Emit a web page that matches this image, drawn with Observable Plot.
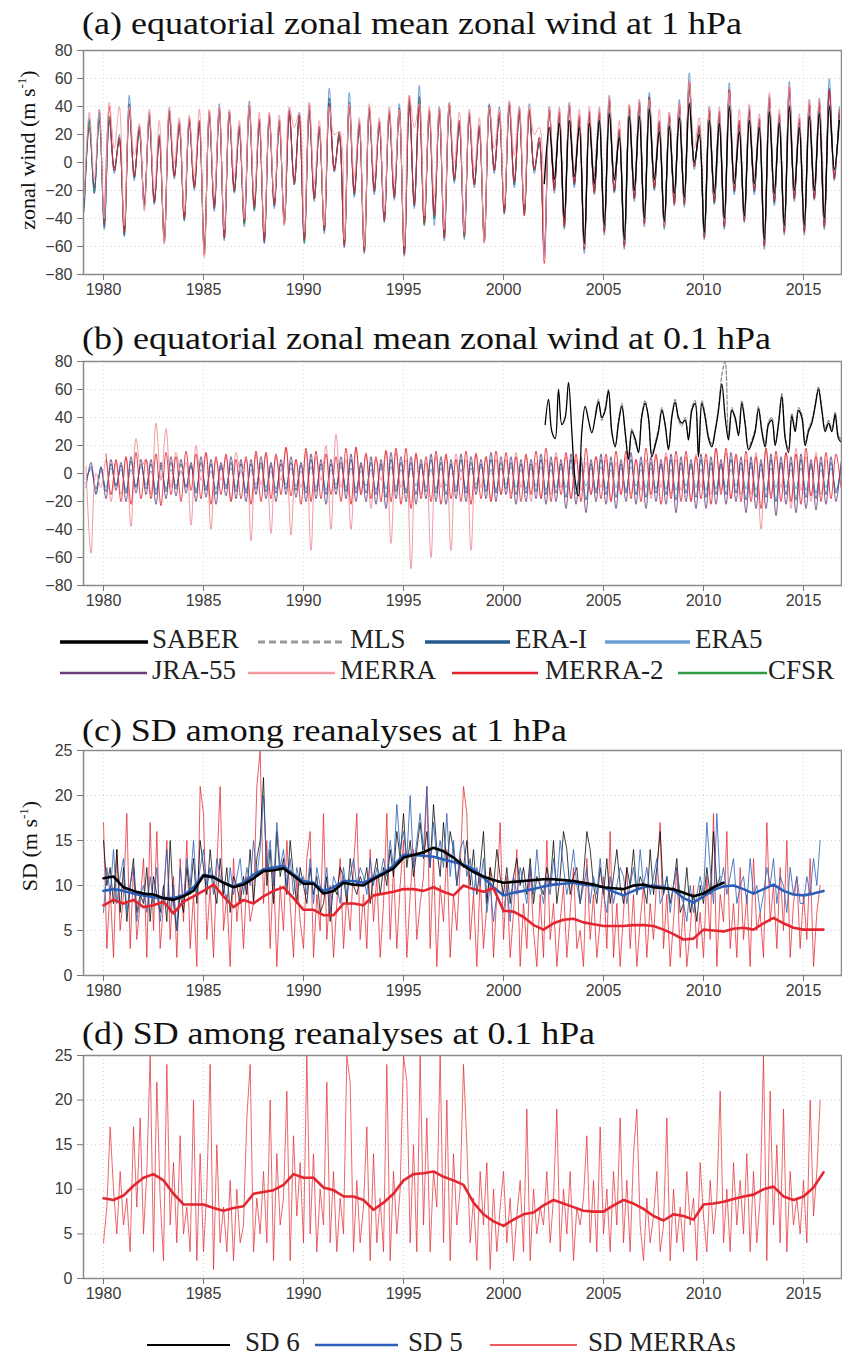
<!DOCTYPE html>
<html><head><meta charset="utf-8">
<script src="https://cdn.jsdelivr.net/npm/d3@7"></script>
<script src="https://cdn.jsdelivr.net/npm/@observablehq/plot@0.6"></script>
<style>
body{margin:0;background:#fff;}
#page{position:relative;width:842px;height:1358px;overflow:hidden;background:#fff;}
.title{position:absolute;left:82px;font-family:"Liberation Serif","Times New Roman",serif;font-size:32px;line-height:32px;color:#111;white-space:nowrap;transform-origin:0 0;}
.panel{position:absolute;left:0;}
.ylab{position:absolute;font-family:"Liberation Serif","Times New Roman",serif;font-size:22px;line-height:22px;color:#111;white-space:nowrap;transform:translate(-50%,-50%) rotate(-90deg);}
.ylab sup{font-size:13px;vertical-align:9px;line-height:0;}
.leg{position:absolute;font-family:"Liberation Serif","Times New Roman",serif;font-size:27px;line-height:27px;color:#222;white-space:nowrap;}
</style></head><body><div id="page"></div>
<script>
// ---------------- DATA ----------------
const xTicks = [1980, 1985, 1990, 1995, 2000, 2005, 2010, 2015];
const windTicks = [-80, -60, -40, -20, 0, 20, 40, 60, 80];
const sdTicks = [0, 5, 10, 15, 20, 25];

// (a) 1 hPa, 4 values per year [Jan, Apr, Jul, Oct]
const a_ERAI = [-32,30,-22,36, -46,33,-6,17, -52,42,-11,24, -31,33,-29,17, -56,36,-9,27, -41,29,-17,29, -63,34,-33,39, -54,36,-21,24, -44,41,-33,29, -57,32,-31,29, -43,35,-14,34, -56,37,-26,24, -49,46,-4,19, -59,43,-23,27, -63,37,-21,29, -41,35,-25,39, -65,43,-31,47, -44,35,-40,37, -54,41,-13,27, -53,33,-16,24, -56,41,-6,34, -36,41,-16,37, -36,37,-6,14, -66,37,-19,34, -46,41,-16,31, -62,34,-21,34, -49,45,-21,21, -59,39,-26,43, -43,47,-19,27, -46,33,-29,41, -29,57,-3,24, -53,37,-29,34, -46,51,-21,27, -41,37,-21,31, -59,46,-29,32, -49,53,-26,29, -49,41,-26,43, -46,53,-11,35];
const a_ERA5 = [-35,32,-22,38, -48,30,-8,20, -53,48,-13,26, -33,36,-30,20, -58,38,-12,30, -42,31,-20,30, -66,36,-35,42, -56,37,-22,27, -46,44,-35,31, -58,35,-33,31, -45,38,-16,36, -57,39,-28,26, -51,53,-7,22, -61,50,-25,30, -65,40,-23,30, -43,38,-27,42, -67,45,-33,55, -45,38,-45,40, -56,43,-15,30, -55,36,-18,27, -57,42,-8,40, -37,44,-18,40, -38,42,-8,18, -67,40,-22,38, -48,43,-18,34, -65,37,-23,38, -52,48,-22,24, -62,41,-28,45, -46,50,-20,30, -48,36,-31,45, -32,64,-5,27, -55,40,-30,37, -48,57,-23,30, -43,40,-23,32, -62,48,-31,35, -52,58,-28,32, -52,45,-27,46, -48,60,-13,40];
const a_JRA55 = [-28,25,-18,30, -42,30,-4,15, -48,36,-9,22, -28,30,-26,16, -52,32,-9,25, -38,28,-16,26, -60,32,-30,35, -50,33,-18,23, -40,38,-30,28, -53,31,-28,26, -40,33,-13,30, -53,35,-23,23, -46,42,-4,18, -56,40,-20,26, -60,36,-18,26, -38,34,-22,35, -62,40,-28,42, -40,34,-36,35, -50,38,-11,26, -50,32,-14,23, -53,38,-4,32, -33,40,-14,34, -33,36,-4,14, -62,36,-17,33, -43,38,-14,30, -58,33,-19,33, -46,42,-19,21, -56,38,-24,40, -40,44,-17,26, -43,32,-26,38, -27,52,-2,23, -50,36,-26,31, -43,48,-19,27, -39,36,-19,28, -56,43,-26,31, -46,50,-24,28, -46,40,-24,40, -43,50,-9,34];
const a_MERRA = [-25,36,-12,38, -40,43,10,40, -45,40,5,28, -35,38,-20,30, -58,40,0,32, -35,34,-10,38, -68,38,-25,40, -48,38,-10,30, -40,42,-25,36, -50,36,-25,34, -45,40,25,36, -50,43,-15,30, -45,40,20,22, -55,42,-10,32, -60,42,-10,32, -35,40,-15,38, -60,48,25,42, -38,40,-25,40, -48,42,0,36, -50,38,-5,32, -58,40,10,38, -30,44,5,40, -30,40,20,25, -70,40,-10,40, -40,42,-5,38, -60,40,-10,40, -45,48,-10,30, -55,42,-15,45, -40,45,-10,38, -45,36,-20,42, -25,58,10,32, -48,40,-20,40, -42,50,-10,38, -38,42,-10,35, -55,50,-20,38, -45,55,-15,35, -45,45,-15,45, -40];
const a_MERRA2 = [-44,40,-6,18, -50,38,-10,26, -30,35,-28,19, -56,37,-10,28, -40,32,-18,30, -66,37,-32,38, -54,36,-20,26, -42,40,-32,31, -56,34,-30,30, -44,37,-15,33, -55,42,-26,26, -48,40,-6,22, -60,40,-22,28, -64,39,-20,29, -42,36,-25,37, -66,48,-30,40, -43,37,-38,38, -54,42,-12,30, -52,35,-16,26, -57,40,-6,36, -36,42,-14,38, -38,38,-5,18, -72,38,-20,36, -46,40,-15,33, -62,36,-22,36, -50,45,-20,24, -60,40,-26,42, -44,46,-18,29, -46,34,-30,42, -30,58,-3,26, -54,38,-28,36, -46,52,-20,30, -42,38,-20,31, -60,46,-28,34, -50,54,-26,31, -50,42,-26,43, -46,52,-12,38];
const a_CFSR = [-30,28,-20,32, -44,32,-4,16, -50,38,-10,22, -30,31,-28,17, -54,34,-10,26, -40,30,-18,28, -62,34,-30,38, -52,36,-20,24, -44,38,-34,28, -54,32,-30,28, -42,34,-16,32, -58,36,-26,24, -48,42,-6,20, -58,40,-22,27, -62,37,-20,28, -40,35,-24,37, -64,42,-30,44, -45,35,-40,36, -52,40,-12,28, -52,33,-16,25, -55,38,-5,33, -34,40,-15,35, -35,36,-5,15, -62,37,-18,33, -44,39,-15,31, -60,34,-20,34, -48,43,-20,22, -58,38,-25,41, -42,45,-18,27, -45,33,-28,39, -28,54,-2,24, -52,37,-28,32];
const a_SABER = [-15,25,-12,28, -40,30,-10,25, -58,28,-15,30, -45,35,-12,18, -55,33,-20,33, -40,38,-12,22, -42,26,-22,32, -25,42,0,20, -50,30,-22,28, -40,40,-15,22, -38,30,-15,25, -55,36,-22,28, -45,40,-20,25, -45,33,-20,35, -40,40,-5,30];
const a_MLS = [-14,31, -46,36,-13,19, -56,34,-21,34, -41,39,-13,23, -43,27,-23,33, -26,43,-1,21, -51,31,-23,29, -41,41,-16,23, -39,31,-16,26, -56,37,-23,29, -46,41,-21,26, -46,34,-21,36, -41,41,-6,31];

// (b) 0.1 hPa, 4 values per year [Feb, May, Aug, Nov]
const b_ERAI = [-7,5,-11,4, -13,7,-9,6, -14,9,-10,7, -11,7,-15,6, -13,8,-11,7, -10,6,-14,8, -12,7,-15,6, -11,8,-13,7, -14,7,-11,8, -13,6,-14,7, -11,8,-12,6, -14,10,-13,7, -15,7,-11,8, -13,10,-14,6, -14,8,-15,7, -17,10,-13,8, -14,8,-15,7, -13,10,-14,8, -15,7,-13,10, -14,8,-11,7, -13,10,-14,8, -11,8,-15,7, -14,7,-13,10, -15,8,-14,7, -17,10,-15,8, -19,7,-14,10, -15,8,-17,7, -14,10,-15,8, -17,8,-14,7, -15,10,-19,8, -14,7,-17,10, -17,8,-15,7, -15,10,-14,8, -19,8,-17,7, -17,10,-20,8, -15,8,-19,10, -17,7,-18,8, -15,8,-14,6];
const b_ERA5 = [-4,3,-14,2, -10,4,-8,3, -12,3,-9,5, -8,2,-12,4, -11,3,-9,2, -9,5,-12,3, -10,2,-11,4, -9,4,-10,3, -12,3,-8,5, -10,2,-11,3, -8,4,-9,2, -11,5,-10,4, -12,3,-8,5, -10,4,-11,2, -9,3,-12,4, -11,5,-10,3, -12,4,-9,5, -10,3,-11,4, -9,5,-10,3, -11,4,-8,5, -10,3,-12,4, -8,5,-10,3, -11,4,-9,5, -12,3,-10,4, -10,5,-11,3, -9,4,-12,5, -11,3,-10,4, -12,5,-9,3, -10,4,-11,5, -11,3,-12,4, -9,5,-10,3, -12,4,-11,5, -10,3,-9,4, -11,5,-12,3, -12,4,-10,5, -10,3,-11,4, -12,5,-14,3, -10,4,-12,2];
const b_JRA55 = [-10,8,-15,5, -18,10,-12,8, -20,12,-14,10, -15,10,-22,8, -18,12,-16,10, -14,8,-20,12, -17,10,-22,8, -16,12,-18,10, -20,10,-15,12, -18,8,-20,10, -15,12,-17,8, -20,14,-18,10, -22,10,-15,12, -18,14,-20,8, -20,12,-22,10, -25,15,-18,12, -20,12,-22,10, -18,14,-20,12, -22,10,-18,14, -20,12,-15,10, -18,15,-20,12, -15,12,-22,10, -20,10,-18,14, -22,12,-20,10, -25,14,-22,12, -28,10,-20,14, -22,12,-25,10, -20,15,-22,12, -25,12,-20,10, -22,14,-28,12, -20,10,-25,14, -25,12,-22,10, -22,15,-20,12, -28,12,-25,10, -25,14,-30,12, -22,12,-28,14, -25,10,-26,12, -22,12,-20,8];
const b_MERRA = [5,-57,0,-10, 10,-20,8,-15, 12,-38,25,5, 10,-15,36,-5, 32,-10,15,0, 8,-37,20,-5, 15,-40,10,-5, 12,-20,15,0, 10,-48,14,-8, 15,-43,12,-5, 18,-44,10,-10, 15,-55,12,-5, 20,-40,28,-10, 10,-40,18,-15, 15,-25,10,-5, 17,-50,15,-10, 10,-68,15,-15, 8,-60,12,-10, 12,-55,14,-5, 10,-55,15,-10, 12,-20,10,-15, 10,-15,15,-10, 12,-20,8,-18, 10,-15,15,-10, 12,-18,10,-12, 8,-15,12,-10, 10,-20,8,-15, 12,-15,10,-12, 10,-18,12,-10, 15,-15,10,-12, 12,-20,14,-10, 10,-15,18,-12, 15,-18,12,-15, 10,-15,15,-40, 18,-15,12,-10, 15,-25,18,-12, 12,-20,15,-15, 10];
const b_MERRA2 = [14,-15,10,-20, 12,-22,15,-18, 10,-18,14,-23, 15,-15,12,-20, 16,-12,14,-18, 15,-22,12,-15, 14,-20,10,-18, 12,-22,16,-20, 15,-18,14,-15, 19,-16,10,-22, 18,-20,16,-18, 14,-15,12,-20, 18,-22,19,-15, 14,-18,12,-20, 16,-20,18,-22, 18,-25,14,-18, 12,-20,16,-22, 14,-18,10,-20, 16,-22,14,-18, 12,-20,16,-15, 15,-18,12,-20, 14,-15,16,-18, 18,-20,12,-15, 15,-18,14,-20, 18,-15,12,-18, 14,-20,16,-15, 16,-18,10,-20, 18,-15,14,-22, 12,-18,16,-20, 16,-20,12,-18, 14,-22,18,-15, 18,-18,14,-20, 16,-20,12,-25, 18,-18,16,-20, 15,-20,14,-22, 18,-16,12,-20, 15,-18,14,-10];
// 6 values per year
const b_SABER = [35,53,30,25,60,35, 40,65,30,-5,-16,30, 48,38,29,40,51,40, 45,59,30,19,36,48, 30,10,30,25,15,41, 50,40,12,20,30,45, 35,17,40,51,40,36, 38,24,45,50,12,50, 40,25,19,30,45,64, 40,24,45,40,27,50, 35,17,22,30,46,30, 19,35,38,20,35,55, 25,15,41,30,45,40, 20,30,36,48,60,45, 30,36,30,42,25,22];
const b_MLS = [42,53,38, 47,60,28,20,38,50, 28,12,32,22,17,43, 52,38,14,22,32,47, 33,19,42,53,38,34, 40,26,47,52,14,52, 42,27,21,32,47,70, 80,26,47,38,29,52, 37,19,24,32,48,32, 21,37,40,22,37,57, 27,17,43,32,47,42, 22,32,38,50,62,47, 32,38,32,44,27,24];

// (c) SD at 1 hPa: thin = 6 values per year from 1980, thick = running mean every half year
const c_SD6 = [15,10,12,8,14,7, 12,6,10,13,7,9, 8,12,6,11,9,7, 10,6,15,8,5,9, 7,12,9,13,8,15, 12,9,14,10,8,13, 9,12,7,11,10,8, 11,9,14,8,13,15, 22,10,14,8,16,11, 13,9,15,11,8,12, 10,8,12,9,11,7, 8,11,6,10,9,12, 11,8,13,10,9,11, 10,12,8,11,13,9, 12,10,14,11,16,13, 18,12,15,11,14,17, 13,16,12,19,14,11, 17,12,16,14,10,13, 12,15,10,14,9,12, 16,8,12,10,14,11, 9,12,8,11,13,10, 12,9,13,8,11,10, 9,12,10,15,8,11, 16,14,9,11,12,8, 11,16,14,10,8,12, 9,13,8,11,14,10, 8,12,10,14,9,11, 10,8,14,9,12,16, 9,11,8,10,13,7, 8,12,7,9,6,10, 8,12,9,16,10,11];
const c_SD5 = [7,12,9,14,8,11, 13,7,10,12,6,9, 10,7,11,8,12,6, 9,14,7,10,5,12, 8,13,10,15,9,12, 14,10,12,9,13,11, 10,8,12,9,11,13, 9,12,10,15,11,14, 20,12,15,10,17,12, 14,10,13,9,12,10, 11,9,13,8,12,10, 9,12,7,11,10,8, 12,9,11,13,10,12, 11,9,13,10,12,11, 13,11,15,12,19,14, 16,13,20,12,15,18, 14,21,12,17,13,15, 12,18,11,15,10,14, 15,11,13,9,12,10, 13,7,10,6,9,8, 7,10,6,11,9,12, 10,8,12,9,14,10, 8,11,9,13,10,15, 12,9,11,14,10,8, 10,12,8,11,9,13, 9,7,11,8,10,12, 11,8,10,12,9,14, 10,12,9,11,13,8, 9,11,7,10,12,9, 8,6,10,7,9,11, 9,17,12,8,18,10, 12,9,11,13,8,10, 11,8,13,9,10,7, 9,12,10,13,8,11, 10,7,12,9,11,8, 8,11,9,13,10,15];
const c_SDM = [17,3,10,2,14,5, 9,18,3,12,4,8, 13,2,17,5,16,3, 8,15,4,11,2,13, 6,15,3,9,1,21, 18,4,10,2,12,21, 5,9,1,13,6,10, 3,11,6,8,21,25, 8,15,3,12,1,10, 5,15,8,2,11,6, 3,13,16,2,9,5, 18,4,10,2,8,13, 3,9,5,12,18,4, 9,3,14,6,11,2, 8,18,4,12,3,10, 15,2,9,14,4,8, 11,21,3,13,1,10, 6,14,2,9,5,12, 21,18,4,9,1,11, 3,8,12,2,9,17, 4,11,2,7,14,1, 8,3,12,5,1,9, 2,15,4,8,1,6, 10,2,7,12,3,5, 1,13,4,9,2,6, 11,3,16,2,8,1, 7,12,3,9,1,6, 10,2,8,4,11,17, 3,9,1,6,12,2, 8,1,5,10,3,7, 2,11,4,18,1,9, 6,16,3,8,2,12, 4,9,1,13,5,7, 2,17,6,10,3,12, 5,15,2,8,11,3, 9,4,13,1,7,10];
const c_SD6mean = [10.8,11.0,9.8,9.4,9.1,9.0,8.6,8.4,8.8,9.4,11.1,10.9,10.3,9.8,10.1,10.8,11.6,11.7,11.9,11.1,10.2,10.2,9.1,9.4,10.3,10.1,10.0,10.7,11.3,11.9,13.1,13.4,13.7,14.2,13.8,13.1,12.2,11.5,11.0,10.6,10.3,10.4,10.5,10.6,10.7,10.7,10.6,10.5,10.3,10.1,9.8,9.7,9.6,10.0,10.1,9.8,9.7,9.6,9.2,8.8,9.1,9.8,10.3];
const c_SD5mean = [9.4,9.6,9.4,9.1,8.9,8.7,8.6,8.6,8.9,9.8,11.2,11.0,10.3,9.9,10.3,11.2,11.8,12.0,12.2,11.2,10.5,10.3,9.4,9.8,10.5,10.5,10.3,10.9,11.4,12.2,13.4,13.4,13.3,13.2,12.9,12.6,12.3,11.8,10.9,9.8,8.9,9.2,9.4,9.6,9.9,10.1,10.2,10.3,10.1,10.0,9.8,9.3,8.9,9.4,9.8,10.0,9.8,9.5,8.6,8.1,8.8,9.5,9.9,10.0,9.6,9.1,9.6,10.1,9.4,9.0,8.9,9.1,9.4];
const c_SDMmean = [7.8,8.4,8.0,8.4,7.6,7.8,8.2,6.9,8.2,8.8,9.4,10.1,8.8,7.6,8.4,8.0,8.8,9.4,9.8,8.6,7.3,7.3,6.7,6.7,8.0,8.0,7.8,8.9,9.1,9.3,9.6,9.6,9.4,9.8,9.3,8.9,10.0,9.6,9.3,9.7,7.2,7.1,6.5,5.6,5.1,5.8,6.2,6.3,5.9,5.7,5.5,5.5,5.5,5.6,5.6,5.5,5.1,4.6,4.0,4.1,5.1,5.0,4.9,5.2,5.3,5.1,5.8,6.4,5.8,5.3,5.1,5.1,5.1];

// (d) SD at 0.1 hPa
const d_SDM = [4,8,17,10,5,12, 6,9,3,17,8,18, 5,12,25,3,22,9, 2,24,6,13,4,16, 5,8,3,20,2,14, 3,10,24,1,15,4, 8,3,11,2,10,4, 6,18,24,3,9,5, 12,4,20,2,14,6, 9,21,2,16,7,13, 4,25,5,14,3,10, 6,22,4,12,3,9, 5,25,22,3,11,4, 8,17,2,14,4,9, 3,24,2,12,5,10, 25,22,4,15,3,25, 6,18,3,12,8,25, 4,20,2,14,6,10, 24,15,4,9,2,12, 6,13,1,10,3,8, 12,4,9,2,7,11, 3,19,2,10,5,8, 6,12,4,9,19,3, 10,5,12,2,8,6, 9,16,4,11,3,17, 5,10,3,12,6,18, 4,11,3,14,19,6, 2,9,4,7,12,3, 6,18,2,10,4,8, 3,12,6,9,2,13, 7,3,11,5,9,21, 4,10,3,13,6,11, 5,14,3,12,4,9, 25,2,21,6,15,4, 19,3,12,6,9,5, 11,4,20,7,12,20];
const d_SDMmean = [9.0,8.8,9.3,10.4,11.3,11.7,11.0,9.5,8.3,8.3,8.3,7.9,7.6,7.9,8.1,9.5,9.7,9.9,10.5,11.7,11.3,11.3,10.2,9.9,9.2,9.2,8.8,7.7,8.5,9.5,11.0,11.7,11.8,12.0,11.4,11.0,10.5,8.5,7.2,6.4,5.9,6.6,7.2,7.4,8.2,8.8,8.4,8.0,7.6,7.5,7.5,8.2,8.8,8.4,7.8,7.0,6.5,7.2,7.0,6.6,8.3,8.4,8.6,8.9,9.2,9.4,10.0,10.3,9.2,8.8,9.2,10.2,11.9];

// ---------------- helpers ----------------
function ser(vals, start, perYear, phase) {
  return vals.map((v, i) => ({t: start + i / perYear + phase, v}));
}
const C = {
  SABER: "#000000", MLS: "#8c8c8c", ERAI: "#245b91", ERA5: "#6b9fd3",
  JRA55: "#6a3c7c", MERRA: "#f39aa3", MERRA2: "#e2222c", CFSR: "#2e9a42",
  SD6: "#000000", SD5: "#2d5fb8", SDM: "#e3262f"
};
const page = document.getElementById("page");
const minus = d => d < 0 ? "\u2212" + Math.abs(d) : String(d);

function line(data, stroke, w, extra = {}) {
  return Plot.line(data, {x: "t", y: "v", stroke, strokeWidth: w, clip: true, ...extra});
}

function panel(top, innerH, yDomain, yTicks, marks) {
  const mt = 10, mb = 30;
  const svg = Plot.plot({
    width: 842, height: mt + innerH + mb,
    marginLeft: 83, marginRight: 1, marginTop: mt, marginBottom: mb,
    style: {fontFamily: '"Liberation Sans", Arial, sans-serif', fontSize: "16px", color: "#333", background: "transparent", overflow: "visible"},
    x: {domain: [1979, 2016.9]},
    y: {domain: yDomain},
    marks: [
      Plot.gridY(yTicks, {stroke: "#d4d4d4", strokeOpacity: 1, strokeDasharray: "1,3"}),
      Plot.gridX(xTicks, {stroke: "#d4d4d4", strokeOpacity: 1, strokeDasharray: "1,3"}),
      ...marks,
      Plot.frame({stroke: "#8a8a8a", strokeWidth: 1.5}),
      Plot.axisY(yTicks, {tickSize: 6, tickPadding: 5, stroke: "#777", label: null, tickFormat: minus, fill: "#3a3a3a"}),
      Plot.axisX(xTicks, {tickSize: 6, tickPadding: 3, stroke: "#777", label: null, tickFormat: d => String(d), fill: "#3a3a3a"})
    ]
  });
  svg.classList.add("panel");
  svg.style.top = (top - mt) + "px";
  page.appendChild(svg);
}

function title(text, baseline, targetW) {
  const d = document.createElement("div");
  d.className = "title";
  d.textContent = text;
  d.style.top = (baseline - 28.5) + "px";
  page.appendChild(d);
  const w = d.getBoundingClientRect().width;
  d.style.transform = `scaleX(${targetW / w})`;
}

function ylab(html, cx, cy) {
  const d = document.createElement("div");
  d.className = "ylab";
  d.innerHTML = html;
  d.style.left = cx + "px";
  d.style.top = cy + "px";
  page.appendChild(d);
}

// legend swatches overlay
const legSvg = d3.select(page).append("svg")
  .attr("width", 842).attr("height", 1358)
  .style("position", "absolute").style("left", 0).style("top", 0).style("pointer-events", "none");
function legItem(x1, x2, y, color, w, dash, label, tx) {
  legSvg.append("line").attr("x1", x1).attr("x2", x2).attr("y1", y).attr("y2", y)
    .attr("stroke", color).attr("stroke-width", w).attr("stroke-dasharray", dash || null);
  const d = document.createElement("div");
  d.className = "leg";
  d.textContent = label;
  d.style.left = tx + "px";
  d.style.top = (y - 16) + "px";
  page.appendChild(d);
}

// ---------------- panels ----------------
title("(a) equatorial zonal mean zonal wind at 1 hPa", 35, 660);
panel(50, 224, [-80, 80], windTicks, [
  line(ser(a_ERA5, 1979, 4, 0.04), C.ERA5, 1, {curve: "catmull-rom"}),
  line(ser(a_ERAI, 1979, 4, 0.04), C.ERAI, 1, {curve: "catmull-rom", strokeOpacity: 0.85}),
  line(ser(a_CFSR, 1979, 4, 0.04), C.CFSR, 1, {curve: "catmull-rom", strokeOpacity: 0.85}),
  line(ser(a_JRA55, 1979, 4, 0.04), C.JRA55, 1, {curve: "catmull-rom", strokeOpacity: 0.85}),
  line(ser(a_MERRA2, 1980, 4, 0.04), C.MERRA2, 1, {curve: "catmull-rom", strokeOpacity: 0.85}),
  line(ser(a_MERRA, 1979, 4, 0.04), C.MERRA, 1, {curve: "catmull-rom", strokeOpacity: 0.9}),
  line(ser(a_MLS, 2004.5, 4, 0.04), C.MLS, 1.2, {curve: "catmull-rom", strokeDasharray: "4,2"}),
  line(ser(a_SABER, 2002, 4, 0.04), C.SABER, 1.4, {curve: "catmull-rom"})
]);
ylab("zonal wind (m s<sup>-1</sup>)", 28, 150);

title("(b) equatorial zonal mean zonal wind at 0.1 hPa", 350, 689);
panel(361, 224, [-80, 80], windTicks, [
  line(ser(b_ERA5, 1979, 4, 0.125), C.ERA5, 1, {curve: "catmull-rom"}),
  line(ser(b_ERAI, 1979, 4, 0.125), C.ERAI, 1, {curve: "catmull-rom", strokeOpacity: 0.85}),
  line(ser(b_JRA55, 1979, 4, 0.125), C.JRA55, 1, {curve: "catmull-rom", strokeOpacity: 0.85}),
  line(ser(b_MERRA, 1979, 4, 0.125), C.MERRA, 1, {curve: "catmull-rom"}),
  line(ser(b_MERRA2, 1980, 4, 0.125), C.MERRA2, 1, {curve: "catmull-rom", strokeOpacity: 0.85}),
  line(ser(b_MLS, 2004.5, 6, 1 / 12), C.MLS, 1.2, {curve: "catmull-rom", strokeDasharray: "4,2"}),
  line(ser(b_SABER, 2002, 6, 1 / 12), C.SABER, 1.3, {curve: "catmull-rom"})
]);

legItem(60, 148, 642, C.SABER, 3.5, null, "SABER", 152);
legItem(258, 345, 642, "#999", 3, "7,4", "MLS", 350);
legItem(425, 510, 642, C.ERAI, 3.5, null, "ERA-I", 515);
legItem(605, 690, 642, C.ERA5, 3.5, null, "ERA5", 695);
legItem(60, 147, 673, C.JRA55, 2.5, null, "JRA-55", 152);
legItem(248, 335, 673, C.MERRA, 2.5, null, "MERRA", 340);
legItem(452, 538, 673, C.MERRA2, 2.5, null, "MERRA-2", 545);
legItem(678, 767, 673, C.CFSR, 2.5, null, "CFSR", 768);

title("(c) SD among reanalyses at 1 hPa", 742, 485);
panel(750, 225, [0, 25], sdTicks, [
  line(ser(c_SDM, 1980, 6, 0), C.SDM, 1, {strokeOpacity: 0.75}),
  line(ser(c_SD6, 1980, 6, 0), C.SD6, 1, {strokeOpacity: 0.75}),
  line(ser(c_SD5, 1980, 6, 0), C.SD5, 1, {strokeOpacity: 0.8}),
  line(ser(c_SD5mean, 1980, 2, 0), C.SD5, 2.6),
  line(ser(c_SD6mean, 1980, 2, 0), C.SD6, 2.6),
  line(ser(c_SDMmean, 1980, 2, 0), C.SDM, 2.6)
]);
ylab("SD (m s<sup>-1</sup>)", 30, 846);

title("(d) SD among reanalyses at 0.1 hPa", 1045, 513);
panel(1055, 223, [0, 25], sdTicks, [
  line(ser(d_SDM, 1980, 6, 0), C.SDM, 1, {strokeOpacity: 0.7}),
  line(ser(d_SDMmean, 1980, 2, 0), C.SDM, 2.6)
]);

legItem(147, 230, 1345, C.SD6, 2, null, "SD 6", 245);
legItem(315, 398, 1345, C.SD5, 2.5, null, "SD 5", 408);
legItem(490, 577, 1345, "#ee5a61", 2, null, "SD MERRAs", 588);
</script>
</body></html>
